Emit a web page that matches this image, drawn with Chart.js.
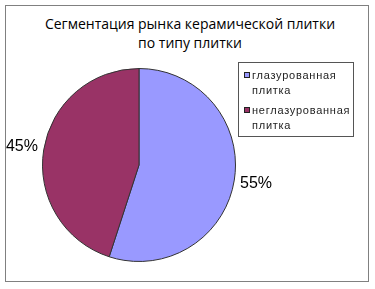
<!DOCTYPE html>
<html>
<head>
<meta charset="utf-8">
<script src="https://cdn.jsdelivr.net/npm/chart.js@4"></script>
<style>
html,body{margin:0;padding:0;background:#fff;}
#wrap{position:relative;width:375px;height:289px;overflow:hidden;}
#frame{position:absolute;left:5px;top:5px;width:362px;height:275px;border:1px solid #808080;}
#title{position:absolute;left:0;top:14px;width:380px;text-align:center;font-family:"Open Sans",sans-serif;font-size:14px;line-height:19px;color:#000;}
#legend{position:absolute;left:238px;top:62px;width:114px;height:73px;border:1px solid #555;font-family:"Liberation Sans",Arial,sans-serif;font-size:11px;line-height:15px;color:#222;letter-spacing:0.75px;}
.item{position:absolute;left:13px;width:104px;}
.sw{position:absolute;left:-8px;top:4px;width:4px;height:4px;border:1px solid #222;}
canvas{position:absolute;left:0;top:0;}
</style>
</head>
<body>
<div id="wrap">
<div id="frame"></div>
<div id="title">Сегментация рынка керамической плитки<br>по типу плитки</div>
<canvas id="c" width="375" height="289"></canvas>
<div id="legend"></div>
</div>
<script>
const categories = ["глазурованная плитка", "неглазурованная плитка"];
const legendLines = [["глазурованная", "плитка"], ["неглазурованная", "плитка"]];
const values = [55, 45];
const labels = ["55%", "45%"];
const colors = ["#9999FF", "#993366"];

const legend = document.getElementById('legend');
const tops = [5, 40];
legendLines.forEach((lines, i) => {
  const d = document.createElement('div');
  d.className = 'item';
  d.style.top = tops[i] + 'px';
  d.innerHTML = '<span class="sw" style="background:' + colors[i] + '"></span>' + lines.join('<br>');
  legend.appendChild(d);
});

const pctPlugin = {
  id: 'pct',
  afterDatasetsDraw(chart) {
    const ctx = chart.ctx;
    const meta = chart.getDatasetMeta(0);
    ctx.save();
    ctx.font = '16px "Liberation Sans", Arial, sans-serif';
    ctx.fillStyle = '#000';
    ctx.textAlign = 'center';
    ctx.textBaseline = 'middle';
    meta.data.forEach((arc, i) => {
      const p = arc.getProps(['x', 'y', 'startAngle', 'endAngle', 'outerRadius'], true);
      const a = (p.startAngle + p.endAngle) / 2;
      const r = p.outerRadius + 22;
      ctx.fillText(labels[i], p.x + Math.cos(a) * r, p.y + Math.sin(a) * r);
    });
    ctx.restore();
  }
};

new Chart(document.getElementById('c'), {
  type: 'pie',
  data: {
    labels: categories,
    datasets: [{
      data: values,
      backgroundColor: colors,
      borderColor: '#333',
      borderWidth: 1
    }]
  },
  options: {
    responsive: false,
    animation: false,
    layout: { padding: { left: 42, right: 139, top: 68, bottom: 27 } },
    plugins: { legend: { display: false }, tooltip: { enabled: false }, title: { display: false } }
  },
  plugins: [pctPlugin]
});
</script>
</body>
</html>
